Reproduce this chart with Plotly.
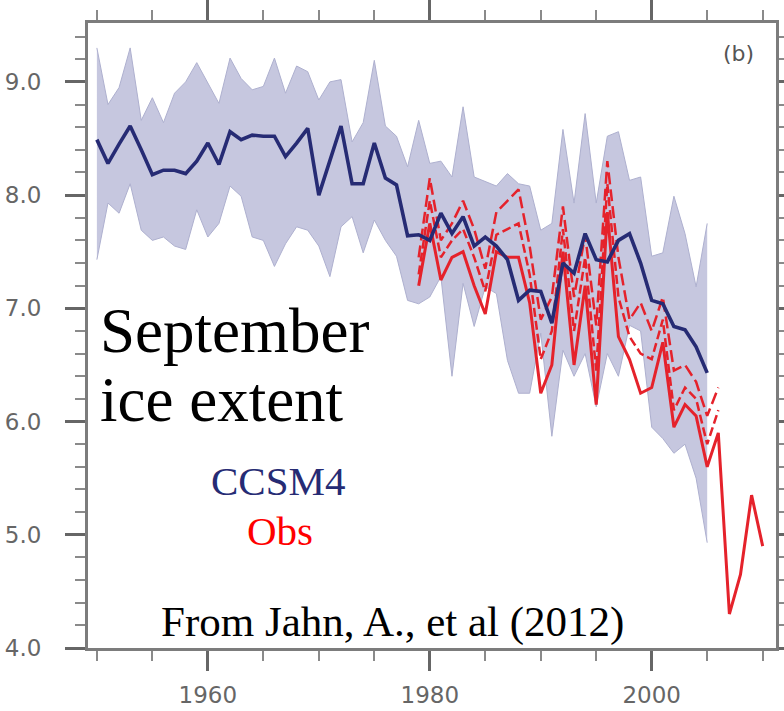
import plotly.graph_objects as go

# ---------------- data ----------------
model_years = list(range(1950, 2006))
ccsm4_mean = [8.49, 8.28, 8.45, 8.61, 8.40, 8.18, 8.22, 8.22, 8.19, 8.30,
              8.46, 8.27, 8.56, 8.49, 8.53, 8.52, 8.52, 8.34, 8.46, 8.59,
              8.00, 8.30, 8.61, 8.10, 8.10, 8.46, 8.15, 8.09, 7.64, 7.65,
              7.60, 7.84, 7.66, 7.81, 7.55, 7.63, 7.55, 7.43, 7.07, 7.16,
              7.15, 6.87, 7.40, 7.31, 7.66, 7.43, 7.41, 7.60, 7.66, 7.40,
              7.07, 7.04, 6.84, 6.81, 6.66, 6.43]
ccsm4_upper = [9.30, 8.80, 8.95, 9.30, 8.66, 8.86, 8.64, 8.90, 9.00, 9.17,
               8.99, 8.81, 9.21, 9.03, 8.93, 8.96, 9.21, 8.90, 9.14, 9.09,
               8.84, 9.00, 9.02, 8.47, 8.64, 9.19, 8.61, 8.52, 8.25, 8.66,
               8.28, 8.30, 8.16, 8.78, 8.16, 8.12, 8.08, 8.19, 8.10, 8.08,
               7.69, 7.75, 8.58, 7.93, 8.72, 7.93, 8.52, 8.56, 8.13, 8.16,
               7.46, 7.49, 7.99, 7.66, 7.19, 7.75]
ccsm4_lower = [7.43, 7.93, 7.84, 8.10, 7.69, 7.60, 7.63, 7.55, 7.52, 7.87,
               7.63, 7.75, 8.08, 7.99, 7.63, 7.60, 7.37, 7.57, 7.72, 7.69,
               7.55, 7.28, 7.72, 7.81, 7.49, 7.78, 7.60, 7.46, 7.07, 7.04,
               7.10, 7.28, 6.40, 7.22, 6.84, 7.19, 7.13, 6.54, 6.25, 6.25,
               6.78, 5.87, 6.63, 6.40, 6.60, 6.13, 6.60, 6.40, 6.85, 6.80,
               5.95, 5.85, 5.72, 5.80, 5.50, 4.93]

obs_years = list(range(1979, 2011))
obs_solid = [7.20, 7.75, 7.25, 7.45, 7.50, 7.20, 6.95, 7.50, 7.45, 7.45,
             7.05, 6.25, 6.50, 7.50, 6.50, 7.20, 6.15, 7.85, 6.75, 6.55,
             6.25, 6.30, 6.70, 5.95, 6.15, 6.05, 5.60, 5.90, 4.30, 4.65,
             5.35, 4.90]

obs_dash_years = list(range(1979, 2007))
obs_dash1 = [7.45, 8.15, 7.60, 7.75, 7.95, 7.70, 7.35, 7.85, 7.95, 8.05,
             7.55, 6.90, 7.10, 7.90, 7.10, 7.65, 6.85, 8.30, 7.45, 6.90,
             7.05, 6.80, 7.10, 6.45, 6.50, 6.35, 6.05, 6.30]
obs_dash2 = [7.30, 7.95, 7.45, 7.60, 7.70, 7.45, 7.15, 7.65, 7.70, 7.75,
             7.30, 6.55, 6.80, 7.70, 6.80, 7.45, 6.45, 8.10, 7.10, 6.75,
             6.60, 6.55, 6.90, 6.10, 6.30, 6.20, 5.80, 6.10]

x_ticks = [1960, 1980, 2000]
y_ticks = [4.0, 5.0, 6.0, 7.0, 8.0, 9.0]

# ---------------- styles ----------------
NAVY = "#262b74"
RED = "#e5222b"
BAND = "#c6c7df"
BAND_EDGE = "#aeb0cf"

fig = go.Figure()

# ensemble envelope
fig.add_trace(go.Scatter(x=model_years, y=ccsm4_upper, mode="lines",
                         line=dict(color=BAND_EDGE, width=1), hoverinfo="skip"))
fig.add_trace(go.Scatter(x=model_years, y=ccsm4_lower, mode="lines",
                         line=dict(color=BAND_EDGE, width=1), fill="tonexty",
                         fillcolor=BAND, hoverinfo="skip"))

# observations
fig.add_trace(go.Scatter(x=obs_dash_years, y=obs_dash2, mode="lines",
                         line=dict(color=RED, width=2.5, dash="9px,4px")))
fig.add_trace(go.Scatter(x=obs_dash_years, y=obs_dash1, mode="lines",
                         line=dict(color=RED, width=2.5, dash="12px,5px")))
fig.add_trace(go.Scatter(x=obs_years, y=obs_solid, mode="lines",
                         line=dict(color=RED, width=3)))

# model mean
fig.add_trace(go.Scatter(x=model_years, y=ccsm4_mean, mode="lines",
                         line=dict(color=NAVY, width=3.6)))

# ---------------- layout ----------------
L, R, T, B = 88, 8, 23, 63
W, H = 784, 711
PW, PH = W - L - R, H - T - B


def px(xp):
    return (xp - L) / PW


def py(yp):
    return (H - B - yp) / PH


axis_common = dict(
    ticks="outside", ticklen=20, tickwidth=2.5, tickcolor="#666666",
    showline=True, linecolor="#7c7c7c", linewidth=3, mirror="ticks",
    showgrid=False, zeroline=False, automargin=False,
    tickfont=dict(family="DejaVu Sans", size=23, color="#666666"),
)

fig.update_layout(
    width=W, height=H,
    margin=dict(l=L, r=R, t=T, b=B, autoexpand=False),
    plot_bgcolor="white", paper_bgcolor="white",
    showlegend=False,
    xaxis=dict(range=[1949.2, 2011.2], tickvals=x_ticks,
               ticktext=[str(v) for v in x_ticks], ticklabelstandoff=4,
               minor=dict(tick0=1950, dtick=5, ticks="outside", ticklen=10,
                          tickwidth=2, tickcolor="#8a8a8a", showgrid=False),
               **axis_common),
    yaxis=dict(range=[4.0, 9.52], tickvals=y_ticks,
               ticktext=[f"{v:.1f}" for v in y_ticks], ticklabelstandoff=19,
               minor=dict(tick0=4.0, dtick=0.2, ticks="outside", ticklen=10,
                          tickwidth=2, tickcolor="#8a8a8a", showgrid=False),
               **axis_common),
)

serif = "Liberation Serif"
ann = [
    dict(text="September", x=px(99), y=py(331), xanchor="left", yanchor="middle",
         font=dict(family=serif, size=63, color="black")),
    dict(text="ice extent", x=px(99), y=py(400), xanchor="left", yanchor="middle",
         font=dict(family=serif, size=63, color="black")),
    dict(text="CCSM4", x=px(278), y=py(481), xanchor="center", yanchor="middle",
         font=dict(family=serif, size=41, color=NAVY)),
    dict(text="Obs", x=px(280), y=py(531), xanchor="center", yanchor="middle",
         font=dict(family=serif, size=41, color="#ff0000")),
    dict(text="From Jahn, A., et al (2012)", x=px(392), y=py(622),
         xanchor="center", yanchor="middle",
         font=dict(family=serif, size=43, color="black")),
    dict(text="(b)", x=px(738), y=py(53), xanchor="center", yanchor="middle",
         font=dict(family="DejaVu Sans", size=22, color="#555555")),
]
for a in ann:
    fig.add_annotation(xref="paper", yref="paper", showarrow=False,
                       borderpad=0, **a)

fig.write_html(
    "out.html",
    config={"displayModeBar": False},
    post_script="document.body.style.margin='0px';document.body.style.padding='0px';document.body.style.overflow='hidden';",
)
